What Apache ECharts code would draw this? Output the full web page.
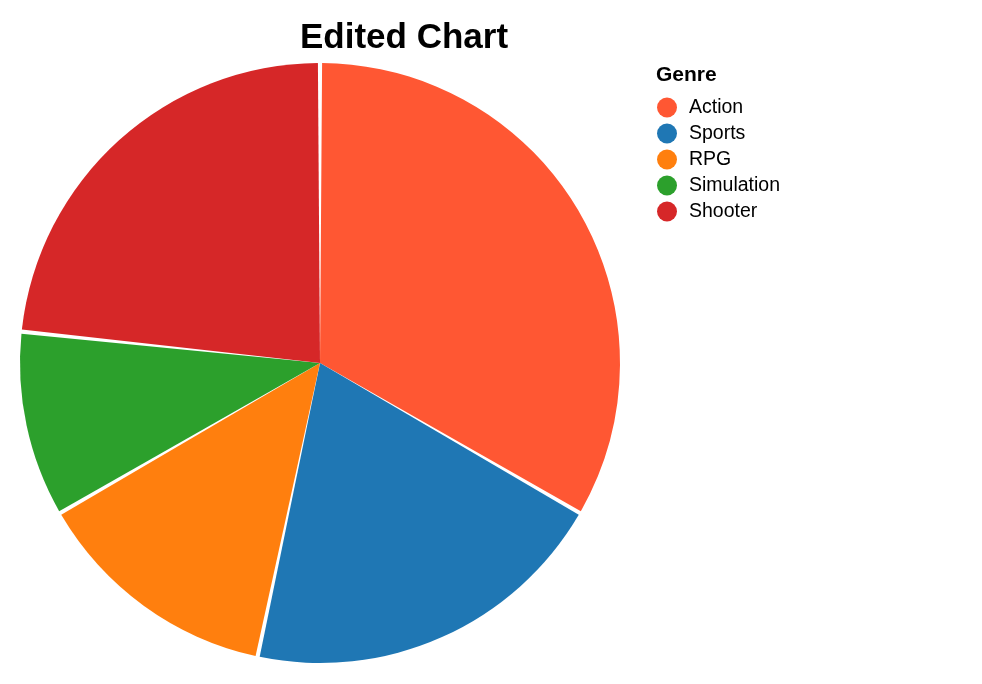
<!DOCTYPE html>
<html>
<head>
<meta charset="utf-8">
<script src="https://cdn.jsdelivr.net/npm/echarts@6/dist/echarts.min.js"></script>
<style>
  html, body { margin: 0; padding: 0; background: #fff; }
  #chart { width: 982px; height: 684px; }
</style>
</head>
<body>
<div id="chart"></div>
<script>
const genres = ['Action', 'Sports', 'RPG', 'Simulation', 'Shooter']
const sales = [50, 30, 20, 15, 35]
const colors = ['#ff5733', '#1f77b4', '#ff7f0e', '#2ca02c', '#d62728']

const chart = echarts.init(document.getElementById('chart'))
const font = "'Liberation Sans', Arial, Helvetica, sans-serif"

chart.setOption({
  animation: false,
  textStyle: { fontFamily: font },
  title: [
    {
      text: 'Edited Chart',
      left: 404,
      textAlign: 'center',
      top: 21,
      padding: 0,
      textStyle: { fontSize: 35, fontWeight: 'bold', color: '#000', fontFamily: font },
    },
    {
      text: 'Genre',
      left: 656,
      top: 65,
      padding: 0,
      textStyle: { fontSize: 21, fontWeight: 'bold', color: '#000', fontFamily: font },
    },
  ],
  legend: {
    orient: 'vertical',
    left: 657,
    top: 97.5,
    padding: 0,
    icon: 'circle',
    itemWidth: 20,
    itemHeight: 20,
    itemGap: 6,
    data: genres,
    textStyle: { fontSize: 19.5, color: '#000', fontFamily: font, padding: [0, 0, 0, 7] },
  },
  series: [
    {
      type: 'pie',
      center: [320, 363],
      radius: [0, 300],
      startAngle: 90,
      clockwise: true,
      padAngle: 0.8,
      label: { show: false },
      labelLine: { show: false },
      emphasis: { disabled: true },
      data: genres.map((g, i) => ({
        name: g,
        value: sales[i],
        itemStyle: { color: colors[i] },
      })),
    },
  ],
})
</script>
</body>
</html>
